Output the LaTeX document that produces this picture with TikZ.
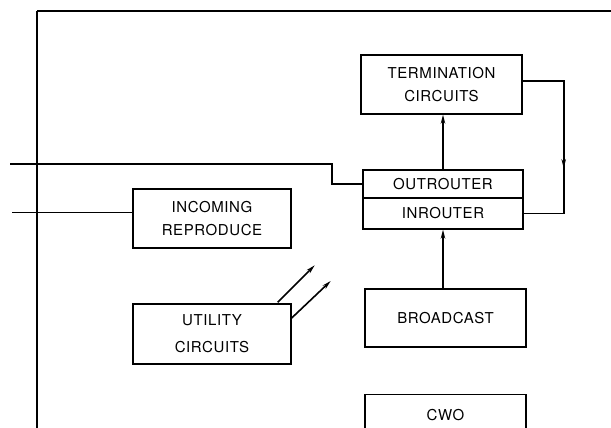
\documentclass[tikz,border=0pt]{standalone}
\usepackage{fontspec}
\setmainfont{TeX Gyre Heros}[LetterSpace=4]
\usetikzlibrary{arrows.meta,decorations.markings}

\tikzset{
  blk/.style={draw, line width=1.4pt, inner sep=0pt, align=center,
    font=\fontsize{15}{23.5}\selectfont},
  wire/.style={line width=1.6pt},
  tip/.style={-{Stealth[length=9pt,width=4.5pt]}},
  midtip/.style={postaction={decorate}, decoration={markings,
    mark=at position #1 with {\arrow{Stealth[length=9pt,width=4.5pt]}}}}
}

\begin{document}
\begin{tikzpicture}[x=1pt,y=-1pt]
\clip (0,0) rectangle (611,428);
\useasboundingbox (0,0) rectangle (611,428);

% frame
\coordinate (fa) at (37,11);
\coordinate (fb) at (611,11);
\coordinate (fc) at (37,430);
\draw[line width=2.2pt] (fb) -- (fa);
\draw[line width=1.6pt] (fa) -- (fc);

% blocks
\node[blk, minimum width=161pt, minimum height=59pt] (term) at (441.5,84.5) {TERMINATION\\CIRCUITS};
\node[blk, minimum width=160pt, minimum height=28pt] (outr) at (443,184) {OUTROUTER};
\node[blk, minimum width=160pt, minimum height=31pt] (inr) at (443,213.5) {INROUTER};
\node[blk, minimum width=158pt, minimum height=59pt] (inc) at (212,218.5) {INCOMING\\REPRODUCE};
\node[blk, minimum width=158pt, minimum height=60pt,
  font=\fontsize{15}{27}\selectfont] (util) at (212,334) {UTILITY\\CIRCUITS};
\node[blk, minimum width=161pt, minimum height=58pt] (bc) at (445.5,318) {BROADCAST};
\node[blk, anchor=north, minimum width=161pt, text height=25.5pt, text depth=34.5pt] (cwo) at (445.5,394) {CWO};

% feeders from the left
\coordinate (la) at (10,164);
\coordinate (lb) at (12,212.5);
\draw[wire] (la) -- (332,164) |- (outr.west);
\draw[wire] (lb) -- (lb -| inc.west);

% router connections
\draw[wire, tip] (outr.north) -- (outr.north |- term.south);
\draw[wire, tip] (inr.south |- bc.north) -- (inr.south);
\draw[wire, midtip=0.6] ([yshift=3.5pt]term.east) -- ++(41,0) coordinate (rt)
  -- (rt |- inr.east) -- (inr.east);

% utility outputs
\draw[wire, tip] ([xshift=-14pt,yshift=1pt]util.north east) -- ++(37,-37);
\draw[wire, tip] ([yshift=16pt]util.east) -- ++(39,-37);
\end{tikzpicture}
\end{document}
